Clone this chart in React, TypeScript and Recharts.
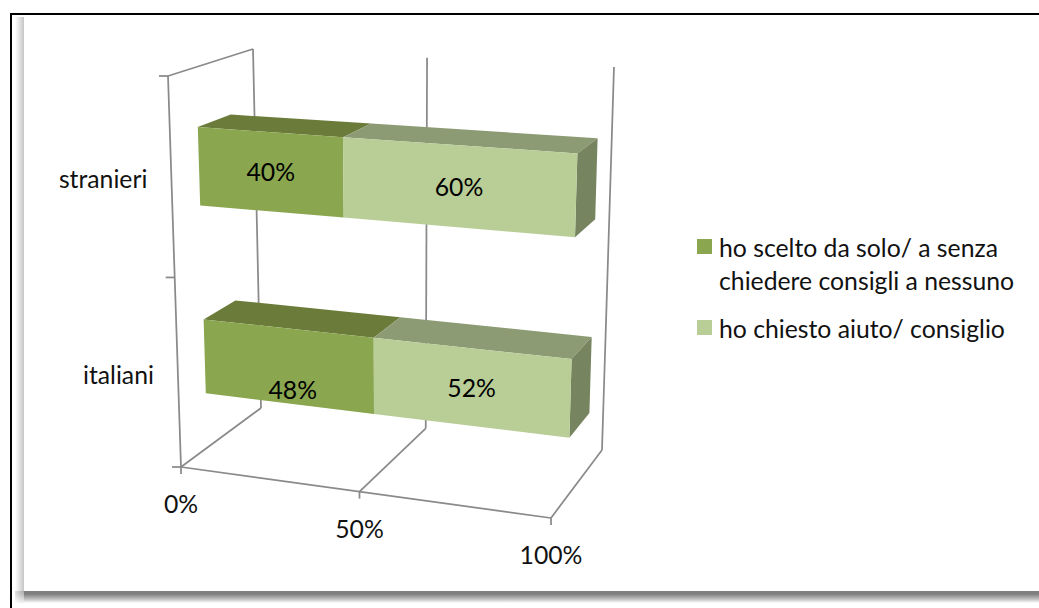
import React from 'react';
import { BarChart, Bar, XAxis, YAxis, CartesianGrid, Legend, LabelList } from 'recharts';

const groups = ['stranieri', 'italiani'];
const soloShare = [40, 48];
const askedShare = [60, 52];
const xTicks = [0, 50, 100];
const soloName = 'ho scelto da solo/ a senza chiedere consigli a nessuno';
const askedName = 'ho chiesto aiuto/ consiglio';

const rows = groups.map((group, i) => ({ group, solo: soloShare[i], asked: askedShare[i] }));

const FONT = 'Lato, Carlito, sans-serif';
const FONT_SIZE = 24.75;
const LINE = '#8a8a8a';
const PLOT = { left: 100, top: 50, width: 500, height: 450 };
const BAR_FRONT = 0.33;
const BAR_BACK = 0.72;

type Pt = [number, number];

// square -> quad homography, the walls of the fake 3D box
const makeHomography = (p: Pt[]) => {
  const [[x0, y0], [x1, y1], [x2, y2], [x3, y3]] = p;
  const dx1 = x1 - x2, dx2 = x3 - x2, sx = x0 - x1 + x2 - x3;
  const dy1 = y1 - y2, dy2 = y3 - y2, sy = y0 - y1 + y2 - y3;
  const den = dx1 * dy2 - dx2 * dy1;
  const g = (sx * dy2 - dx2 * sy) / den;
  const h = (dx1 * sy - sx * dy1) / den;
  const a = x1 - x0 + g * x1, b = x3 - x0 + h * x3;
  const d = y1 - y0 + g * y1, e = y3 - y0 + h * y3;
  return (u: number, v: number): Pt => {
    const w = g * u + h * v + 1;
    return [(a * u + b * v + x0) / w, (d * u + e * v + y0) / w];
  };
};

const frontWall = makeHomography([[168, 76], [562, 100], [551, 518], [181, 467]]);
const backWall = makeHomography([[253, 49], [614, 67], [602, 450], [261, 408]]);

const project = (u: number, v: number, depth: number): Pt => {
  const f = frontWall(u, v);
  const b = backWall(u, v);
  return [f[0] + (b[0] - f[0]) * depth, f[1] + (b[1] - f[1]) * depth];
};

const toU = (x: number) => (x - PLOT.left) / PLOT.width;
const toV = (y: number) => (y - PLOT.top) / PLOT.height;
const poly = (pts: Pt[]) => pts.map((p) => `${p[0].toFixed(1)},${p[1].toFixed(1)}`).join(' ');

const seg = (key: string, a: Pt, b: Pt) => (
  <line key={key} x1={a[0]} y1={a[1]} x2={b[0]} y2={b[1]} stroke={LINE} strokeWidth={1.75} />
);

const Bar3D = (props: any) => {
  const { x, y, width, height, front, top, side, showSide } = props;
  const u0 = toU(x), u1 = toU(x + width);
  const v0 = toV(y), v1 = toV(y + height);
  return (
    <g>
      <polygon
        points={poly([project(u0, v0, BAR_BACK), project(u1, v0, BAR_BACK), project(u1, v0, BAR_FRONT), project(u0, v0, BAR_FRONT)])}
        fill={top}
      />
      {showSide && (
        <polygon
          points={poly([project(u1, v0, BAR_FRONT), project(u1, v0, BAR_BACK), project(u1, v1, BAR_BACK), project(u1, v1, BAR_FRONT)])}
          fill={side}
        />
      )}
      <polygon
        points={poly([project(u0, v0, BAR_FRONT), project(u1, v0, BAR_FRONT), project(u1, v1, BAR_FRONT), project(u0, v1, BAR_FRONT)])}
        fill={front}
      />
    </g>
  );
};

const WallLine = (props: any) => {
  const u = toU(props.x1);
  const base = project(u, 1, 0);
  return (
    <g key={props.key}>
      {seg('back', project(u, 0, 1), project(u, 1, 1))}
      {seg('floor', project(u, 1, 1), base)}
      {seg('tick', base, [base[0], base[1] + 7])}
      {u < 0.01 && seg('left', project(0, 0, 0), project(0, 1, 0))}
      {u < 0.01 && seg('roof', project(0, 0, 0), project(0, 0, 1))}
      {u < 0.01 && seg('edge', project(0, 1, 0), project(1, 1, 0))}
    </g>
  );
};

const SideTick = (props: any) => {
  const p = project(0, toV(props.y1), 0);
  return <g key={props.key}>{seg('t', p, [p[0] - 9, p[1]])}</g>;
};

const XTick = (props: any) => {
  const p = project(toU(props.x), 1, 0);
  return (
    <text x={p[0]} y={p[1] + 46} textAnchor="middle" fontFamily={FONT} fontSize={FONT_SIZE} fill="#111">
      {`${props.payload.value}%`}
    </text>
  );
};

const YTick = (props: any) => {
  const p = project(0, toV(props.y), 0);
  return (
    <text x={p[0] - 24} y={p[1] + 10} textAnchor="end" fontFamily={FONT} fontSize={FONT_SIZE} fill="#111">
      {props.payload.value}
    </text>
  );
};

const BarLabel = (props: any) => {
  const box = props.viewBox ?? props;
  const { x, y, width, height } = box;
  const u0 = toU(x), u1 = toU(x + width);
  const a = project(u0, toV(y), BAR_FRONT);
  const b = project(u1, toV(y + height), BAR_FRONT);
  // the 48% label was dragged low in the bar in the source
  const dragged = props.value === 48;
  return (
    <text
      x={(a[0] + b[0]) / 2 + (dragged ? 4 : 0)}
      y={(a[1] + b[1]) / 2 + 9 + (dragged ? 23 : 0)}
      textAnchor="middle"
      fontFamily={FONT}
      fontSize={FONT_SIZE}
      fill="#000"
    >
      {`${props.value}%`}
    </text>
  );
};

const LegendBox = ({ payload }: any) => (
  <div style={{ fontFamily: FONT, fontSize: FONT_SIZE, lineHeight: '33px', color: '#111' }}>
    {(payload ?? []).map((entry: any, i: number) => (
      <div key={entry.value} style={{ display: 'flex', marginBottom: i === 0 ? 15 : 0 }}>
        <span style={{ width: 15, height: 15, marginTop: 8, marginRight: 7, flex: 'none', background: entry.color }} />
        <span style={{ width: 305 }}>{entry.value}</span>
      </div>
    ))}
  </div>
);

export default function App() {
  return (
    <div style={{ position: 'absolute', left: 0, top: 0, width: 1039, height: 608, overflow: 'hidden', background: '#fff' }}>
      <div style={{ position: 'absolute', left: 10, top: 13, width: 1029, height: 2, background: '#000' }} />
      <div style={{ position: 'absolute', left: 10, top: 13, width: 2, height: 595, background: '#000' }} />
      <div style={{ position: 'absolute', left: 15, top: 17, width: 9, height: 574, background: 'linear-gradient(to right,#fff,#c6c6c6)' }} />
      <div style={{ position: 'absolute', left: 24, top: 591, width: 1015, height: 12, background: 'linear-gradient(to bottom,#7f7f7f,#7f7f7f 25%,#c4c4c4 70%,#fff)' }} />
      <div style={{ position: 'absolute', left: 15, top: 591, width: 9, height: 12, background: 'radial-gradient(circle at 100% 0,#a8a8a8,#fff 95%)' }} />
      <div style={{ position: 'absolute', left: 0, top: 0 }}>
        <BarChart
          width={1039}
          height={608}
          layout="vertical"
          data={rows}
          barCategoryGap="30%"
          margin={{ top: PLOT.top, right: 439, bottom: 0, left: 0 }}
        >
          <CartesianGrid
            horizontal={SideTick}
            vertical={WallLine}
            horizontalPoints={[PLOT.top, PLOT.top + PLOT.height / 2, PLOT.top + PLOT.height]}
          />
          <XAxis type="number" domain={[0, 100]} ticks={xTicks} height={108} axisLine={false} tickLine={false} tick={XTick} />
          <YAxis type="category" dataKey="group" width={100} axisLine={false} tickLine={false} tick={YTick} />
          <Legend
            layout="vertical"
            align="center"
            verticalAlign="middle"
            itemSorter={null}
            wrapperStyle={{ left: 697, top: 231, width: 330, right: 'auto', bottom: 'auto' }}
            content={LegendBox}
          />
          <Bar
            dataKey="solo"
            name={soloName}
            stackId="a"
            fill="#8aa64f"
            isAnimationActive={false}
            shape={(p: any) => <Bar3D {...p} front="#8aa64f" top="#6b7c3a" side="#6b7c3a" />}
          >
            <LabelList dataKey="solo" content={BarLabel} />
          </Bar>
          <Bar
            dataKey="asked"
            name={askedName}
            stackId="a"
            fill="#b9cd96"
            isAnimationActive={false}
            shape={(p: any) => <Bar3D {...p} front="#b9cd96" top="#8c9b73" side="#76845f" showSide />}
          >
            <LabelList dataKey="asked" content={BarLabel} />
          </Bar>
        </BarChart>
      </div>
    </div>
  );
}
